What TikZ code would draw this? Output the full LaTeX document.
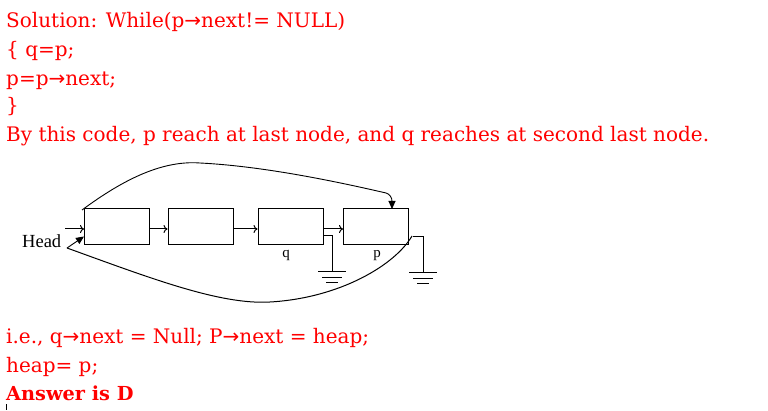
\documentclass[tikz,border=0pt]{standalone}
\usepackage{fontspec}
\setmainfont{DejaVu Serif}
\newfontfamily\symf{DejaVu Sans}
\newfontfamily\lbl{Liberation Serif}
\usetikzlibrary{arrows.meta}
\definecolor{txtred}{RGB}{255,0,0}
\newcommand{\ar}{{\symf →}}
\begin{document}
\begin{tikzpicture}[x=1pt,y=-1pt,
  txt/.style={anchor=base west,inner sep=0pt,text=txtred,font=\fontsize{20}{22}\selectfont},
  listbox/.style={draw,line width=1pt,minimum width=65pt,minimum height=36pt,inner sep=0pt},
  nextar/.style={line width=1pt,-{To[length=4pt,width=8pt]}},
  fillar/.style={line width=0.9pt,-{Triangle[length=8pt,width=7pt]}},
  gline/.style={line width=1pt},
  lab/.style={inner sep=0pt,anchor=base,font=\lbl\fontsize{15}{16}\selectfont}]
\useasboundingbox (0,0) rectangle (768,411);
\fill[white] (0,0) rectangle (768,411);
% text
\node[txt] (t1) at (6,28) {Solution: While(p\ar next!= NULL)};
\node[txt] (t2) at (6,57) {\{ q=p;};
\node[txt] (t3) at (6,86) {p=p\ar next;};
\node[txt] (t4) at (6,113) {\}};
\node[txt] (t5) at (6,142) {By this code, p reach at last node, and q reaches at second last node.};
\node[txt] (t6) at (6,344) {i.e., q\ar next = Null; P\ar next = heap;};
\node[txt] (t7) at (6,373) {heap= p;};
\node[txt,font=\bfseries\fontsize{19.3}{21}\selectfont] (t8) at (6,400) {Answer is D};
% boxes
\node[listbox] (b1) at (117,227) {};
\node[listbox] (b2) at (200.5,227) {};
\node[listbox] (b3) at (290.5,227) {};
\node[listbox] (b4) at (376,227) {};
\draw[nextar] (b1.east |- 0,229) -- (b2.west |- 0,229);
\draw[nextar] (b2.east |- 0,229) -- (b3.west |- 0,229);
\draw[nextar] (b3.east |- 0,229) -- (b4.west |- 0,229);
% head
\node[inner sep=0pt,anchor=base west,font=\lbl\fontsize{18.5}{19}\selectfont] (head) at (22,248) {Head};
\coordinate (hin) at (65,229);
\draw[nextar] (hin) -- (b1.west |- hin);
\coordinate (hs) at (67,248);
\draw[fillar] (hs) -- (84,236.5);
% top curve
\coordinate (ts) at (82,210);
\draw[fillar] (ts) .. controls (120,182) and (160,160) .. (200,163)
   .. controls (260,166) and (330,180) .. (386,193)
   .. controls (390,194) and (392,198) .. (392,209);
% bottom curve
\draw[gline] (hs) .. controls (150,278) and (220,305) .. (270,302)
   .. controls (340,298) and (395,265) .. (412,236);
% labels
\node[lab] (q) at (286,258) {q};
\node[lab] (p) at (377,258) {p};
% grounds
\coordinate (g1) at (b3.east |- 0,236);
\draw[gline] (g1) -- (332,236) -- (332,272);
\draw[gline] (318,272) -- (346,272) (322,278) -- (342,278) (326,283) -- (338,283);
\coordinate (g2) at (413,237);
\draw[gline] (g2) -- (423,237) -- (423,273);
\draw[gline] (409,273) -- (437,273) (413,279) -- (433,279) (417,284) -- (429,284);
% tiny mark
\draw[line width=0.6pt] (6,404) -- (6,410);
\end{tikzpicture}
\end{document}
